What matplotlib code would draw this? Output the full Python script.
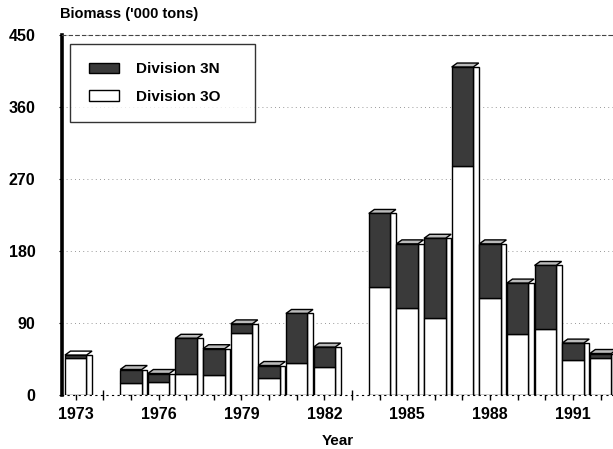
import numpy as np
import matplotlib
matplotlib.use('Agg')
from matplotlib import pyplot as plt
from matplotlib.patches import Polygon, Patch

plt.rcParams['font.family'] = ['Liberation Sans', 'DejaVu Sans']

# data ('000 tons)
years = [1973, 1975, 1976, 1977, 1978, 1979, 1980, 1981, 1982,
         1984, 1985, 1986, 1987, 1988, 1989, 1990, 1991, 1992]
div_3o = [47, 15, 16, 27, 25, 78, 22, 40, 35,
          135, 109, 96, 286, 121, 77, 83, 44, 46]
div_3n = [3, 17, 11, 44, 33, 11, 15, 62, 25,
          92, 80, 100, 124, 68, 63, 79, 21, 6]
tick_years = [1973, 1976, 1979, 1982, 1985, 1988, 1991]
y_ticks = [0, 90, 180, 270, 360, 450]

dark = '#3a3a3a'
w = 0.78     # front face width (years)
d = 0.2      # depth offset in x (years)
dh = 5.0     # depth offset in y (data units)

fig = plt.figure(figsize=(6.13, 4.49), dpi=100)
ax = fig.add_axes([0.101, 0.120, 0.899, 0.802])

# faint dotted grid
for yv in y_ticks[1:]:
  ax.axhline(yv, color='#777777', lw=0.6, ls=(0, (1, 4)), zorder=0)

for x, lo, hi in zip(years, div_3o, div_3n):
  tot = lo + hi
  # side face
  ax.bar(x + w / 2 + d / 2, tot, width=d, bottom=0, color='white',
         edgecolor='black', lw=1.0, zorder=2)
  # top cap
  cap = Polygon([(x - w / 2, tot), (x - w / 2 + d, tot + dh),
                 (x + w / 2 + d, tot + dh), (x + w / 2, tot)],
                closed=True, facecolor='white' if hi < 5 else '#bbbbbb',
                edgecolor='black', lw=1.0, zorder=3)
  ax.add_patch(cap)
  # front faces
  ax.bar(x, lo, width=w, color='white', edgecolor='black', lw=1.0, zorder=3)
  ax.bar(x, hi, width=w, bottom=lo, color=dark, edgecolor='black',
         lw=1.0, zorder=3)

ax.set_xlim(1972.5, 1992.45)
ax.set_ylim(0, 450)

ax.set_xticks(range(1973, 1993), minor=True)
ax.set_xticks(tick_years)
ax.set_xticklabels([str(t) for t in tick_years], fontweight='bold', fontsize=11.5)
ax.set_yticks(y_ticks)
ax.set_yticklabels([str(t) for t in y_ticks], fontweight='bold', fontsize=11.5)
ax.tick_params(axis='x', which='both', direction='inout', length=7, width=1.0, pad=5)
ax.tick_params(axis='y', length=2, width=0.8, pad=17)

ax.spines['left'].set_linewidth(2.6)
ax.spines['right'].set_visible(False)
ax.spines['top'].set_linestyle((0, (3, 3)))
ax.spines['top'].set_linewidth(0.8)
ax.spines['top'].set_color('#444444')
ax.spines['bottom'].set_linestyle((0, (1, 4)))
ax.spines['bottom'].set_linewidth(0.8)

ax.set_xlabel('Year', fontweight='bold', fontsize=11, labelpad=9)
fig.text(0.098, 0.968, "Biomass ('000 tons)", fontweight='bold', fontsize=10.5,
         ha='left', va='center')

handles = [Patch(facecolor=dark, edgecolor='black', label='Division 3N'),
           Patch(facecolor='white', edgecolor='black', label='Division 3O')]
leg = ax.legend(handles=handles, loc='upper left',
                bbox_to_anchor=(0.015, 0.975, 0.335, 0.0), mode='expand',
                frameon=True, fancybox=False, prop={'weight': 'bold', 'size': 11},
                borderpad=1.2, labelspacing=0.9, handlelength=2.0,
                handletextpad=1.1, borderaxespad=0.0)
leg.get_frame().set_edgecolor('black')
leg.get_frame().set_linewidth(1.0)

fig.savefig('out.png', dpi=100)
